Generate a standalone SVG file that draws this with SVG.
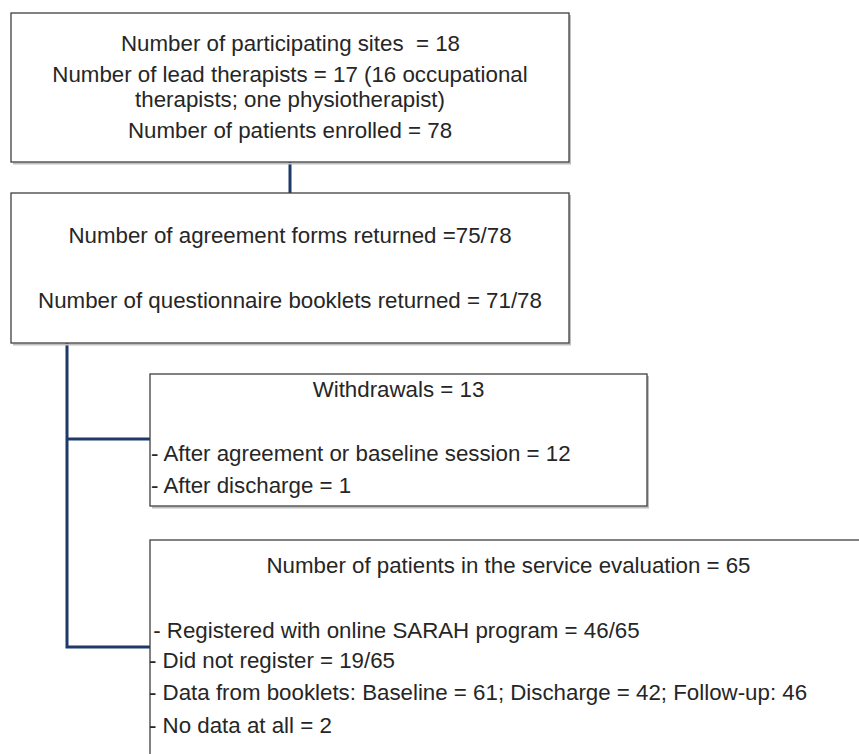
<svg xmlns="http://www.w3.org/2000/svg" width="859" height="754" viewBox="0 0 859 754">
<defs>
<style>
.box{fill:#ffffff;stroke:#3f3f3f;stroke-width:1.3}
.shadow{fill:none;stroke:#bfbfbf;stroke-width:2}
.t{font-family:"Liberation Sans",Arial,sans-serif;font-size:22.3px;fill:#262626;white-space:pre}
.c{text-anchor:middle}
.conn{fill:none;stroke:#1f3a68;stroke-width:3;stroke-linejoin:miter}
</style>
</defs>
<rect width="859" height="754" fill="#ffffff"/>
<g id="connectors">
<line class="conn" x1="290" y1="162" x2="290" y2="193"/>
<path class="conn" d="M67,343 V647 H150"/>
<line class="conn" x1="67" y1="439" x2="150" y2="439"/>
</g>
<g id="node-sites">
<path class="shadow" d="M570,15 V163.5 H13"/>
<rect class="box" x="11" y="13" width="558" height="149"/>
<text class="t c" x="290.5" y="51">Number of participating sites  = 18</text>
<text class="t c" x="290" y="82">Number of lead therapists = 17 (16 occupational</text>
<text class="t c" x="290" y="107">therapists; one physiotherapist)</text>
<text class="t c" x="290" y="138">Number of patients enrolled = 78</text>
</g>
<g id="node-returned">
<path class="shadow" d="M570,195 V344.5 H13"/>
<rect class="box" x="11" y="193" width="558" height="150"/>
<text class="t c" x="290" y="243">Number of agreement forms returned =75/78</text>
<text class="t c" x="290" y="308">Number of questionnaire booklets returned = 71/78</text>
</g>
<g id="node-withdrawals">
<path class="shadow" d="M648,376 V507.5 H152"/>
<rect class="box" x="150" y="374" width="497" height="132"/>
<text class="t c" x="398.5" y="397">Withdrawals = 13</text>
<text class="t" x="151" y="461">- After agreement or baseline session = 12</text>
<text class="t" x="151" y="493">- After discharge = 1</text>
</g>
<g id="node-evaluation">
<rect class="box" x="150" y="540" width="730" height="240"/>
<text class="t c" x="508.5" y="573">Number of patients in the service evaluation = 65</text>
<text class="t" x="147" y="638"> - Registered with online SARAH program = 46/65</text>
<text class="t" x="149" y="668">- Did not register = 19/65</text>
<text class="t" x="149" y="700">- Data from booklets: Baseline = 61; Discharge = 42; Follow-up: 46</text>
<text class="t" x="149" y="733">- No data at all = 2</text>
</g>
</svg>
